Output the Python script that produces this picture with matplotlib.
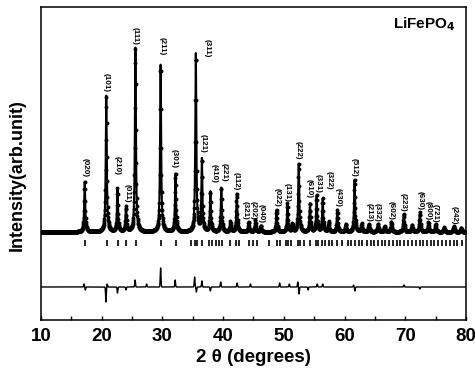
import numpy as np
import matplotlib
matplotlib.use("Agg")
import matplotlib.pyplot as plt

plt.rcParams['font.family'] = ['Liberation Sans', 'DejaVu Sans']
plt.rcParams['font.weight'] = 'bold'

# reflections of the observed pattern: position (2 theta), height (arb.)
peak_pos = [17.2, 20.75, 22.6, 24.0, 25.55, 29.7, 32.15, 35.5, 36.5, 37.9,
            39.7, 41.2, 42.25, 44.2, 45.3, 46.2, 48.8, 50.6, 51.4, 52.45,
            54.3, 55.4, 56.4, 57.4, 58.8, 60.2, 61.65, 62.8, 64.0, 65.5,
            66.6, 67.7, 69.75, 71.1, 72.4, 73.8, 75.0, 76.4, 78.0, 79.2]
peak_h = [50, 136, 43, 25, 184, 167, 58, 178, 72, 40,
          44, 10, 38, 10, 12, 6, 22, 28, 8, 68,
          28, 36, 33, 10, 22, 8, 52, 8, 8, 8,
          6, 10, 18, 7, 20, 10, 8, 5, 6, 4]

# hkl labels
hkl_text = ['(020)', '(101)', '(210)', '(011)', '(111)', '(211)', '(301)',
            '(311)', '(121)', '(410)', '(221)', '(112)', '(321)', '(202)',
            '(040)', '(022)', '(131)', '(222)', '(610)', '(331)', '(322)',
            '(430)', '(512)', '(213)', '(332)', '(602)', '(223)', '(630)',
            '(800)', '(721)', '(242)']
hkl_x = [17.3, 20.7, 22.5, 24.2, 25.5, 29.9, 32.0, 37.3, 36.7, 38.5, 40.2,
         42.2, 43.6, 44.9, 46.2, 48.9, 50.6, 52.4, 54.2, 55.6, 57.5, 59.0,
         61.6, 64.1, 65.4, 67.6, 69.7, 72.4, 73.7, 75.0, 78.0]
hkl_y = [53, 138, 55, 27, 185, 175, 62, 173, 77, 47, 48, 40, 10, 10, 7,
         23, 28, 70, 32, 37, 40, 23, 53, 8, 8, 10, 18, 20, 10, 7, 5]

# Bragg positions (tick row)
bragg = [17.2, 20.8, 22.7, 24.0, 25.6, 29.8, 32.2, 34.7, 35.4, 35.7, 36.5,
         37.7, 38.1, 38.8, 39.4, 39.8, 41.2, 42.2, 42.6, 44.2, 44.9, 45.5,
         47.5, 48.8, 49.3, 50.3, 50.7, 51.2, 52.3, 52.7, 53.4, 54.3, 55.3,
         55.7, 56.3, 56.7, 57.4, 57.9, 58.8, 59.6, 60.5, 61.1, 61.7, 62.4,
         62.9, 63.7, 64.3, 64.9, 65.5, 66.1, 66.7, 67.4, 67.9, 68.6, 69.2,
         69.8, 70.4, 71.1, 71.7, 72.5, 73.0, 73.6, 74.2, 74.8, 75.4, 76.1,
         76.7, 77.3, 78.0, 78.6, 79.3]

# difference curve features: position, amplitude
diff_pos = [17.1, 17.3, 20.7, 20.9, 22.6, 24.0, 25.5, 27.4, 29.7, 32.1,
            35.3, 35.6, 36.5, 37.9, 39.6, 42.3, 44.5, 49.3, 50.9, 52.3,
            52.5, 54.0, 55.5, 56.4, 61.5, 61.7, 69.8, 72.4]
diff_amp = [3, -3, -15, 3, -6, -3, 7, 3, 19, 7,
            10, -5, 6, -4, 5, 4, 3, 4, 3, 5,
            -7, -3, 3, 3, 2, -4, 2, -2]

x = np.arange(10, 80, 0.01)
ycalc = np.full_like(x, -2.0)
for p, h in zip(peak_pos, peak_h):
    ycalc += h / (1 + ((x - p) / 0.1) ** 2)

ydiff = np.full_like(x, -57.0)
for p, a in zip(diff_pos, diff_amp):
    ydiff += a * np.exp(-0.5 * ((x - p) / 0.06) ** 2)

fig = plt.figure(figsize=(4.75, 3.72), dpi=100)
ax = fig.add_axes([0.0863, 0.1398, 0.8947, 0.8414])

ax.plot(x, ycalc, color='black', lw=1.5)
ax.plot(x[::4], ycalc[::4], 'o', color='black', ms=2.8, mew=0)
ax.vlines(bragg, -16, -10, color='black', lw=1.2)
ax.plot(x, ydiff, color='black', lw=1.0)

for t, hx, hy in zip(hkl_text, hkl_x, hkl_y):
    ax.text(hx, hy, t, rotation=270, ha='center', va='bottom',
            fontsize=5.8, fontweight='bold')

ax.text(0.976, 0.974, 'LiFePO$_\\mathbf{4}$', transform=ax.transAxes,
        ha='right', va='top', fontsize=11, fontweight='bold')

ax.set_xlim(10, 80)
ax.set_ylim(-90, 223)
ax.set_xticks(range(10, 81, 10))
ax.set_xticks(range(15, 80, 10), minor=True)
ax.set_yticks([])
ax.tick_params(axis='x', which='both', direction='in', length=3, width=1,
               labelsize=13.5, pad=5.5)
for s in ax.spines.values():
    s.set_linewidth(1.1)
ax.set_xlabel('2 θ (degrees)', fontsize=13.5, fontweight='bold', labelpad=3)
ax.set_ylabel('Intensity(arb.unit)', fontsize=13, fontweight='bold')
ax.yaxis.set_label_coords(-0.035, 0.463)

fig.savefig('out.png', dpi=100)
